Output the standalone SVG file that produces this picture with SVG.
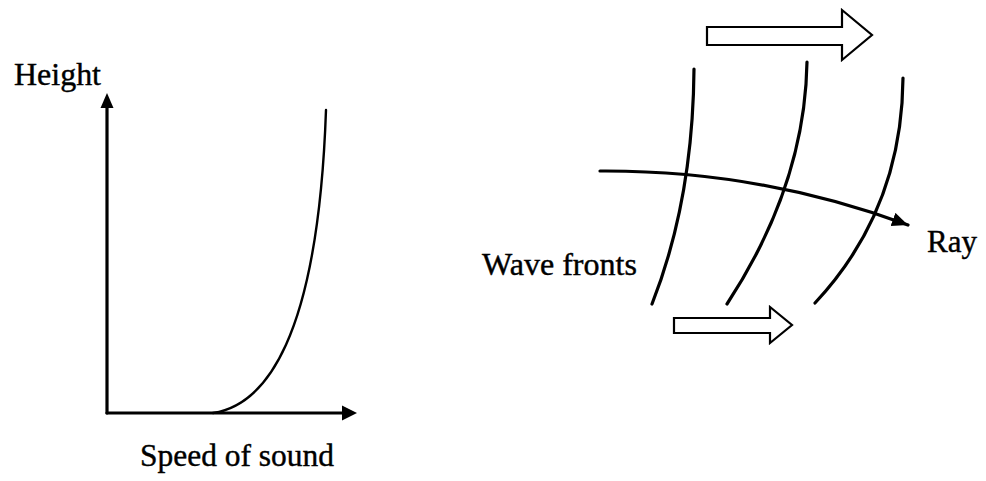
<svg xmlns="http://www.w3.org/2000/svg" width="986" height="481" viewBox="0 0 986 481">
  <style>
    .lbl { font-family: "Liberation Serif", "Times New Roman", serif; font-size: 31px; fill: #000; stroke: #000; stroke-width: 0.4; }
    .thick { fill: none; stroke: #000; stroke-width: 3.2; stroke-linecap: round; }
    .thin { fill: none; stroke: #000; stroke-width: 2.4; stroke-linecap: round; }
    .hollow { fill: #fff; stroke: #000; stroke-width: 2.2; stroke-linejoin: miter; }
    .head { fill: #000; stroke: none; }
  </style>
  <defs>
    <marker id="ah" markerUnits="userSpaceOnUse" markerWidth="20" markerHeight="20" refX="16" refY="7" orient="auto">
      <path d="M0,0 L16,7 L0,14 Z" class="head"/>
    </marker>
  </defs>
  <rect width="986" height="481" fill="#fff"/>

  <g id="graph">
    <g id="axes">
      <line x1="107" y1="413" x2="107" y2="106" class="thick"/>
      <path d="M107,93 L113.5,108 L100.5,108 Z" class="head"/>
      <line x1="107" y1="413" x2="344" y2="413" class="thick"/>
      <path d="M357,413 L342,420.5 L342,405.5 Z" class="head"/>
    </g>
    <path id="speed-curve" d="M213,413 C265,405 318,340 326,110" class="thin"/>
    <text id="label-height" class="lbl" x="14" y="85" textLength="87" lengthAdjust="spacingAndGlyphs">Height</text>
    <text id="label-speed" class="lbl" x="140" y="466" textLength="194" lengthAdjust="spacingAndGlyphs">Speed of sound</text>
  </g>

  <g id="wavefronts">
    <path id="wf1" d="M694,69 Q693,200 652,304" class="thick"/>
    <path id="wf2" d="M807,62 Q805,185 727,304" class="thick"/>
    <path id="wf3" d="M903,78 Q902,210 815,303" class="thick"/>
    <text id="label-wavefronts" class="lbl" x="482" y="275" textLength="155" lengthAdjust="spacingAndGlyphs">Wave fronts</text>
  </g>

  <g id="connectors">
    <path id="ray" d="M600,171 Q760,170 908,225" class="thick" marker-end="url(#ah)"/>
  </g>
  <text id="label-ray" class="lbl" x="927" y="252">Ray</text>

  <g id="arrow-top">
    <path d="M707,27 L842,27 L842,10 L872,35 L842,60 L842,45 L707,45 Z" class="hollow"/>
  </g>
  <g id="arrow-bottom">
    <path d="M674,318 L770,318 L770,307 L792,325 L770,343 L770,333 L674,333 Z" class="hollow"/>
  </g>
</svg>
